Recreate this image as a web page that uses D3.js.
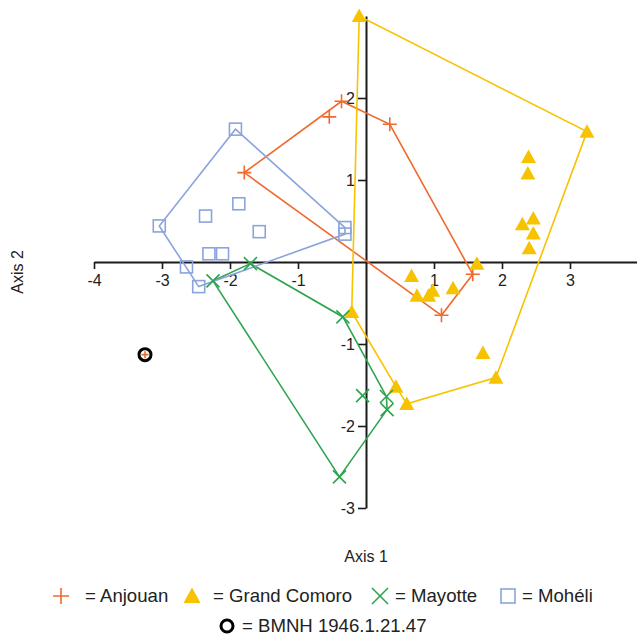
<!DOCTYPE html>
<html>
<head>
<meta charset="utf-8">
<script src="https://cdn.jsdelivr.net/npm/d3@7"></script>
<style>
  html, body { margin: 0; padding: 0; background: #fff; }
  svg { display: block; font-family: "Liberation Sans", Arial, sans-serif; }
</style>
</head>
<body>
<svg id="chart" width="637" height="640"></svg>
<script>
// ---- data (Axis 1, Axis 2) ----
const anjouan = [
  [-1.79, 1.09], [-0.54, 1.77], [-0.36, 1.96], [0.35, 1.68],
  [1.57, -0.15], [1.11, -0.65]
];
const grandComoro = [
  [-0.10, 3.00], [3.25, 1.59], [2.39, 1.28], [2.38, 1.08],
  [2.46, 0.53], [2.30, 0.46], [2.46, 0.35], [2.40, 0.17],
  [1.63, -0.02], [0.67, -0.17], [0.75, -0.41], [0.92, -0.41],
  [0.98, -0.35], [1.28, -0.32], [-0.21, -0.61], [1.72, -1.11],
  [1.91, -1.41], [0.44, -1.52], [0.60, -1.73]
];
const mayotte = [
  [-1.70, -0.02], [-2.25, -0.23], [-0.34, -0.67], [-0.05, -1.63],
  [0.30, -1.64], [0.31, -1.80], [-0.39, -2.62]
];
const moheli = [
  [-1.92, 1.62], [-3.04, 0.44], [-0.31, 0.42], [-0.31, 0.34],
  [-1.87, 0.71], [-2.36, 0.56], [-1.57, 0.37], [-2.31, 0.10],
  [-2.11, 0.10], [-2.64, -0.06], [-2.46, -0.30]
];
const bmnh = [[-3.25, -1.13]];

const xTicks = [-4, -3, -2, -1, 1, 2, 3];
const yTicks = [-3, -2, -1, 1, 2];
const groupNames = ["Anjouan", "Grand Comoro", "Mayotte", "Mohéli"];
const specimenLabel = "BMNH 1946.1.21.47";

// ---- styling ----
const colors = {
  "Anjouan": "#EF6A2C",
  "Grand Comoro": "#F7C300",
  "Mayotte": "#2EA44F",
  "Mohéli": "#8BA4DC"
};

const svg = d3.select("#chart");
const x = d3.scaleLinear().domain([-4, 4]).range([94, 638]);
const y = d3.scaleLinear().domain([-3, 3]).range([508, 16]);

// ---- axes ----
const xAxis = svg.append("g")
  .attr("transform", `translate(0,${y(0)})`)
  .call(d3.axisBottom(x).tickValues(xTicks).tickSize(7).tickSizeOuter(0).tickPadding(6)
        .tickFormat(d3.format("d")));
const yAxis = svg.append("g")
  .attr("transform", `translate(${x(0)},0)`)
  .call(d3.axisLeft(y).tickValues(yTicks).tickSize(8).tickSizeOuter(0).tickPadding(3)
        .tickFormat(d3.format("d")));
[xAxis, yAxis].forEach(a => {
  a.select(".domain").attr("stroke", "#1a1a1a").attr("stroke-width", 2);
  a.selectAll(".tick line").attr("stroke", "#1a1a1a").attr("stroke-width", 1.6);
  a.selectAll(".tick text").attr("font-size", 16).attr("fill", "#222")
    .attr("font-family", "Liberation Sans, Arial, sans-serif")
    .text(d => d < 0 ? "-" + Math.abs(d) : String(d));
});

// axis titles
svg.append("text").attr("x", x(0)).attr("y", 562).attr("text-anchor", "middle")
  .attr("font-size", 16).attr("fill", "#222").text("Axis 1");
svg.append("text").attr("transform", `translate(23,${272}) rotate(-90)`)
  .attr("text-anchor", "middle").attr("font-size", 16).attr("fill", "#222").text("Axis 2");

// ---- hulls ----
const groups = [
  {name: "Anjouan", data: anjouan, shape: "plus"},
  {name: "Grand Comoro", data: grandComoro, shape: "tri"},
  {name: "Mayotte", data: mayotte, shape: "cross"},
  {name: "Mohéli", data: moheli, shape: "square"}
];
const line = d3.line().x(d => x(d[0])).y(d => y(d[1])).curve(d3.curveLinearClosed);
groups.forEach(g => {
  const hull = d3.polygonHull(g.data);
  svg.append("path").attr("d", line(hull)).attr("fill", "none")
    .attr("stroke", colors[g.name]).attr("stroke-width", 1.6);
});

// ---- markers ----
function drawMarker(sel, shape, color, cx, cy, s) {
  if (shape === "plus") {
    sel.append("path").attr("d", `M${cx - s},${cy}H${cx + s}M${cx},${cy - s}V${cy + s}`)
      .attr("stroke", color).attr("stroke-width", 1.6).attr("fill", "none");
  } else if (shape === "cross") {
    sel.append("path").attr("d", `M${cx - s},${cy - s}L${cx + s},${cy + s}M${cx - s},${cy + s}L${cx + s},${cy - s}`)
      .attr("stroke", color).attr("stroke-width", 1.6).attr("fill", "none");
  } else if (shape === "tri") {
    const h = s * 1.8;
    sel.append("path").attr("d", `M${cx},${cy - h * 0.55}L${cx + s},${cy + h * 0.45}L${cx - s},${cy + h * 0.45}Z`)
      .attr("fill", color).attr("stroke", "none");
  } else if (shape === "square") {
    sel.append("rect").attr("x", cx - s).attr("y", cy - s).attr("width", 2 * s).attr("height", 2 * s)
      .attr("fill", "none").attr("stroke", color).attr("stroke-width", 1.6);
  }
}
const sizes = {plus: 7, tri: 7.5, cross: 6.5, square: 6};
groups.forEach(g => {
  const gg = svg.append("g");
  g.data.forEach(d => drawMarker(gg, g.shape, colors[g.name], x(d[0]), y(d[1]), sizes[g.shape]));
});

// specimen
bmnh.forEach(d => {
  svg.append("circle").attr("cx", x(d[0])).attr("cy", y(d[1])).attr("r", 6)
    .attr("fill", "#fff").attr("stroke", "#000").attr("stroke-width", 3);
  drawMarker(svg, "plus", colors["Anjouan"], x(d[0]), y(d[1]), 3.5);
});

// ---- legend ----
const legend = svg.append("g").attr("font-size", 18.6).attr("fill", "#222");
const legendX = [[61, 85], [192, 213], [380, 395], [508, 522]];
const legendShapes = ["plus", "tri", "cross", "square"];
groupNames.forEach((n, i) => {
  drawMarker(legend, legendShapes[i], colors[n], legendX[i][0], 596, legendShapes[i] === "square" ? 7 : (legendShapes[i] === "tri" ? 8.5 : 8));
  legend.append("text").attr("x", legendX[i][1]).attr("y", 602).text("= " + n);
});
legend.append("circle").attr("cx", 227).attr("cy", 626).attr("r", 6)
  .attr("fill", "none").attr("stroke", "#000").attr("stroke-width", 3);
legend.append("text").attr("x", 242).attr("y", 632).text("= " + specimenLabel);
</script>
</body>
</html>
